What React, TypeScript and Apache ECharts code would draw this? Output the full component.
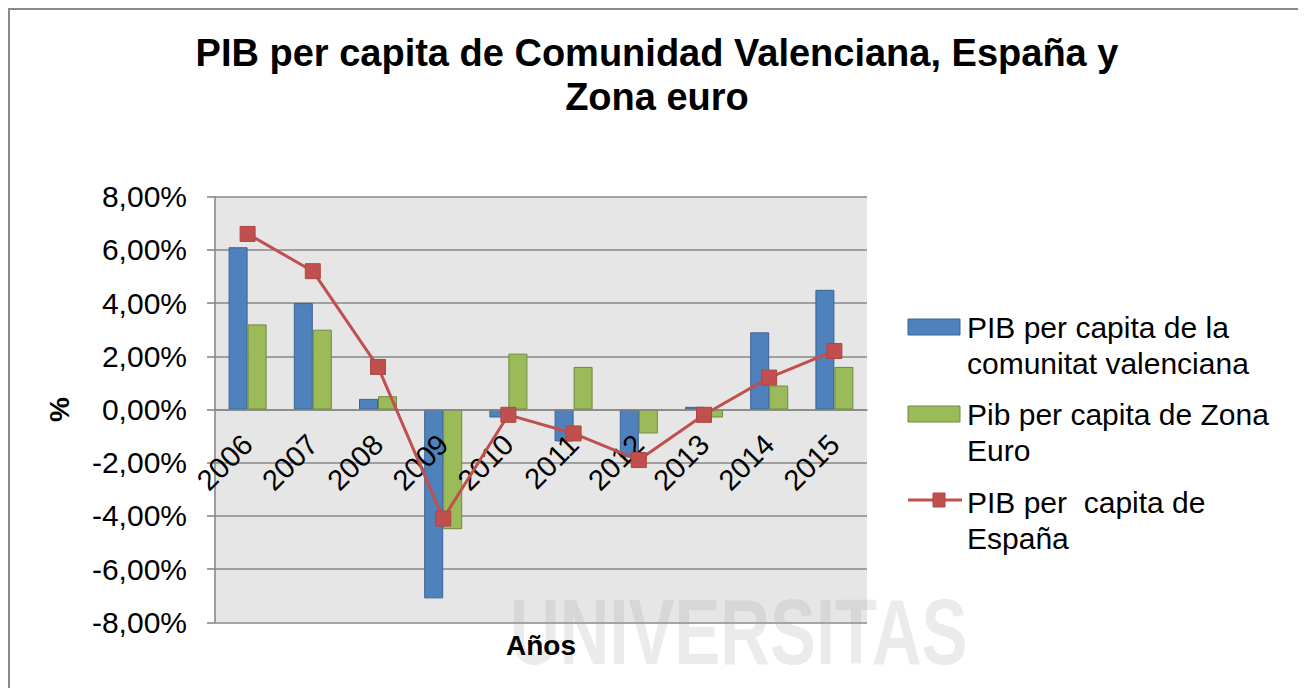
import React, { useEffect, useRef } from "react";
import * as echarts from "echarts";

const titleText = "PIB per capita de Comunidad Valenciana, España y\nZona euro";
const years = ["2006", "2007", "2008", "2009", "2010", "2011", "2012", "2013", "2014", "2015"];
const valenciana = [6.1, 4.0, 0.4, -7.1, -0.3, -1.2, -1.8, 0.1, 2.9, 4.5];
const zonaEuro = [3.2, 3.0, 0.5, -4.5, 2.1, 1.6, -0.9, -0.3, 0.9, 1.6];
const espana = [6.6, 5.2, 1.6, -4.1, -0.2, -0.9, -1.9, -0.2, 1.2, 2.2];
const seriesNames = [
  "PIB per capita de la comunitat valenciana",
  "Pib per capita de Zona Euro",
  "PIB per  capita de España",
];
const legendLabels = [
  "PIB per capita de la\ncomunitat valenciana",
  "Pib per capita de Zona\nEuro",
  "PIB per  capita de\nEspaña",
];
const yMin = -8;
const yMax = 8;
const yInterval = 2;
const xAxisTitle = "Años";
const yAxisTitle = "%";
const watermark = "UNIVERSITAS";

const FONT = "'Liberation Sans', Arial, Helvetica, sans-serif";
const BLUE = "#4f81bd";
const BLUE_B = "#3a6394";
const GREEN = "#9bbb59";
const GREEN_B = "#71893f";
const RED = "#c0504d";
const GRID_C = "#878787";

const GRID_TOP = 188.7;
const GRID_H = 425.6;

export default function App() {
  const ref = useRef<HTMLDivElement>(null);
  useEffect(() => {
    if (!ref.current) return;
    const chart = echarts.init(ref.current, null, { renderer: "svg" });

    const legendX = 900;
    const legendTop = [319, 406, 494];
    const legendGraphics: any[] = [];
    legendLabels.forEach((lab, i) => {
      const cy = legendTop[i];
      if (i < 2) {
        legendGraphics.push({
          type: "rect",
          shape: { x: legendX, y: cy - 8, width: 52, height: 16 },
          style: { fill: i === 0 ? BLUE : GREEN, stroke: i === 0 ? BLUE_B : GREEN_B, lineWidth: 1 },
          silent: true,
        });
      } else {
        legendGraphics.push({
          type: "line",
          shape: { x1: legendX, y1: cy - 2, x2: legendX + 54, y2: cy - 2 },
          style: { stroke: RED, lineWidth: 3 },
          silent: true,
        });
        legendGraphics.push({
          type: "rect",
          shape: { x: legendX + 25, y: cy - 9, width: 12, height: 14 },
          style: { fill: RED, stroke: "#b04542", lineWidth: 1 },
          silent: true,
        });
      }
      legendGraphics.push({
        type: "text",
        x: legendX + 59,
        y: cy - 18,
        style: {
          text: lab,
          font: `30px ${FONT}`,
          fill: "#000",
          lineHeight: 36,
          verticalAlign: "top",
          align: "left",
        },
        silent: true,
      });
    });

    const option: any = {
      animation: false,
      backgroundColor: "#ffffff",
      title: {
        text: titleText,
        left: "center",
        top: 18,
        textStyle: {
          fontFamily: FONT,
          fontSize: 38,
          fontWeight: "bold",
          color: "#000",
          lineHeight: 44,
        },
      },
      grid: {
        left: 207,
        top: GRID_TOP,
        width: 652,
        height: GRID_H,
        show: true,
        backgroundColor: "#e6e6e6",
        borderWidth: 0,
        outerBoundsMode: "none",
        containLabel: false,
      },
      xAxis: {
        type: "category",
        data: years,
        position: "bottom",
        offset: -GRID_H / 2,
        axisLine: { onZero: false, lineStyle: { color: GRID_C, width: 1.6 } },
        axisTick: { show: false },
        axisLabel: {
          rotate: 45,
          margin: 30,
          fontFamily: FONT,
          fontSize: 29,
          color: "#000",
        },
        splitLine: { show: false },
        z: 3,
      },
      yAxis: {
        type: "value",
        min: yMin,
        max: yMax,
        interval: yInterval,
        name: yAxisTitle,
        nameLocation: "middle",
        nameRotate: 90,
        nameGap: 142,
        nameTextStyle: { fontFamily: FONT, fontSize: 28, fontWeight: "bold", color: "#000" },
        axisLine: { show: true, lineStyle: { color: GRID_C, width: 1.6 } },
        axisTick: { show: true, inside: false, length: 8, lineStyle: { color: GRID_C, width: 1.6 } },
        axisLabel: {
          margin: 28,
          fontFamily: FONT,
          fontSize: 30,
          color: "#000",
          formatter: (v: number) => v.toFixed(2).replace(".", ",") + "%",
        },
        splitLine: { show: true, lineStyle: { color: GRID_C, width: 1.6 } },
      },
      series: [
        {
          name: seriesNames[0],
          type: "bar",
          data: valenciana,
          barWidth: 19,
          barGap: "0%",
          itemStyle: { color: BLUE, borderColor: BLUE_B, borderWidth: 1 },
          z: 2,
        },
        {
          name: seriesNames[1],
          type: "bar",
          data: zonaEuro,
          barWidth: 19,
          barGap: "0%",
          itemStyle: { color: GREEN, borderColor: GREEN_B, borderWidth: 1 },
          z: 2,
        },
        {
          name: seriesNames[2],
          type: "line",
          data: espana,
          symbol: "rect",
          symbolSize: 15,
          lineStyle: { color: RED, width: 3 },
          itemStyle: { color: RED, borderColor: "#b04542", borderWidth: 1 },
          z: 5,
        },
      ],
      graphic: [
        {
          type: "rect",
          shape: { x: 1, y: 1, width: 3000, height: 3000 },
          style: { fill: "none", stroke: "#8a8a8a", lineWidth: 2 },
          silent: true,
          z: 100,
        },
        {
          type: "text",
          x: 502,
          y: 624,
          scaleX: 0.74,
          style: {
            text: watermark,
            font: `bold 93px ${FONT}`,
            fill: "rgba(165,165,165,0.22)",
            align: "left",
            verticalAlign: "middle",
          },
          silent: true,
          z: 50,
        },
        {
          type: "text",
          x: 533,
          y: 637,
          style: {
            text: xAxisTitle,
            font: `bold 28px ${FONT}`,
            fill: "#000",
            align: "center",
            verticalAlign: "middle",
          },
          silent: true,
          z: 60,
        },
        ...legendGraphics,
      ],
    };
    chart.setOption(option);
    return () => chart.dispose();
  }, []);
  return <div ref={ref} style={{ width: 1298, height: 680 }} />;
}
